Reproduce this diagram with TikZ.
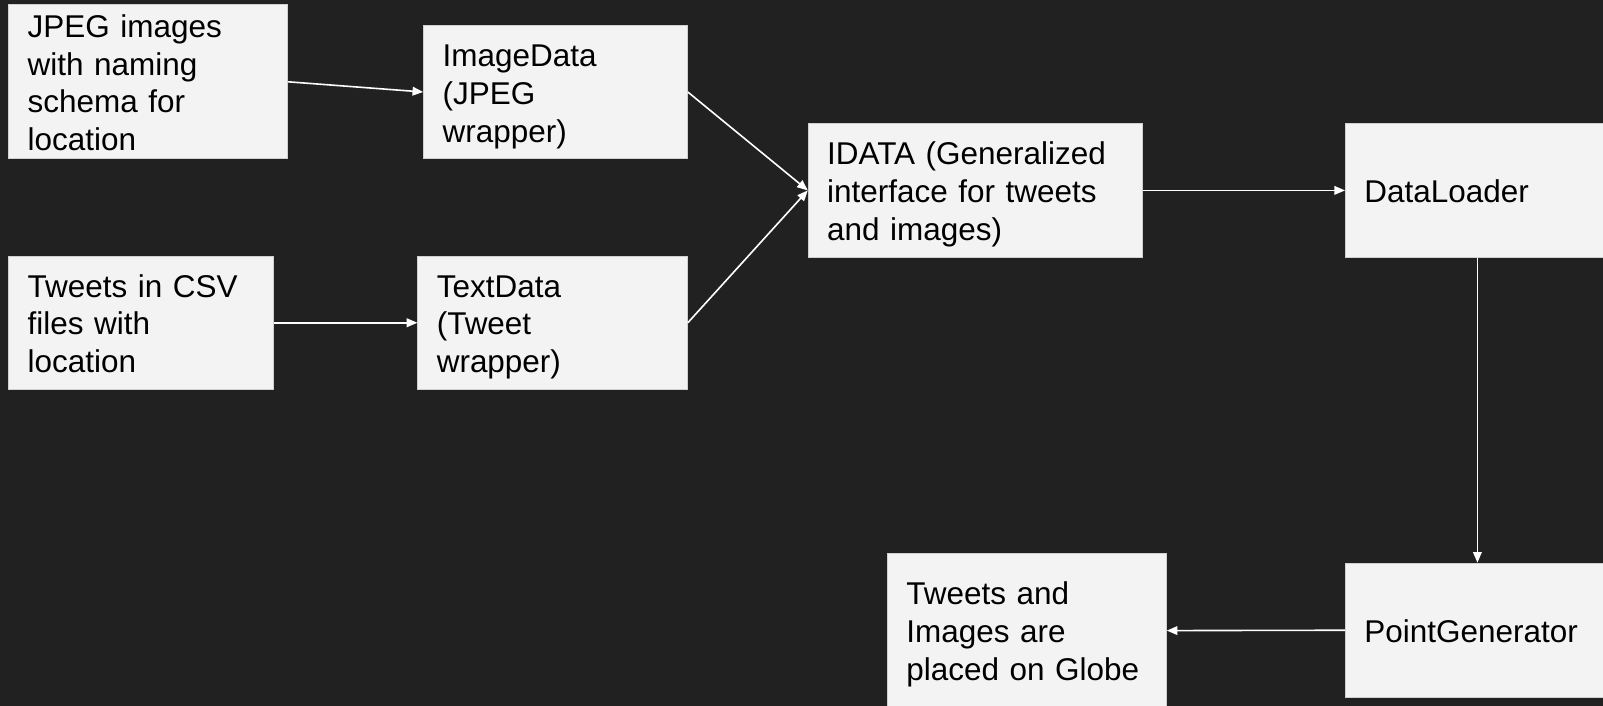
\documentclass[tikz,border=0pt]{standalone}
\usepackage{fontspec}
\setmainfont{Liberation Sans}
\usetikzlibrary{arrows.meta}
\definecolor{bgcol}{HTML}{212121}
\definecolor{boxfill}{HTML}{F3F3F3}
\definecolor{boxline}{HTML}{D0D0D0}
\newcommand\lnstrut{\rule[-5.05pt]{0pt}{28.4pt}}
\tikzset{
  box/.style={draw=boxline, line width=0.6pt, fill=boxfill, anchor=north west,
    inner xsep=14.25pt, inner ysep=0pt, align=left, text=black,
    font=\fontsize{23.6pt}{28.4pt}\selectfont},
  flow/.style={draw=white, line width=1.2pt, -{Triangle[length=8pt,width=6.5pt]}}
}
\begin{document}
\begin{tikzpicture}[x=0.75pt,y=-0.75pt]
\useasboundingbox (0,0) rectangle (1603,706);
\fill[bgcol] (0,0) rectangle (1603,706);
\clip (0,0) rectangle (1603,706);
\node[box, minimum width=209.25pt, minimum height=115.65pt, text width=180.75pt] (jpeg) at (8.3,4.3)
  {\lnstrut JPEG images\\with naming\\schema for\\location\lnstrut};
\node[box, minimum width=197.85pt, minimum height=100.35pt, text width=169.35pt] (imgdata) at (423.2,24.7)
  {\lnstrut ImageData\\(JPEG\\wrapper)\lnstrut};
\node[box, minimum width=198.3pt, minimum height=100.3pt, text width=169.8pt] (csv) at (8.3,255.5)
  {\lnstrut Tweets in CSV\\files with\\location\lnstrut};
\node[box, minimum width=202.2pt, minimum height=100.3pt, text width=173.7pt] (txtdata) at (417.4,255.5)
  {\lnstrut TextData\\(Tweet\\wrapper)\lnstrut};
\node[box, minimum width=250.8pt, minimum height=100.05pt, text width=222.3pt] (idata) at (807.8,123.3)
  {\lnstrut IDATA (Generalized\\interface for tweets\\and images)\lnstrut};
\node[box, minimum width=198pt, minimum height=100.05pt, text width=169.5pt] (loader) at (1345,123.3)
  {\lnstrut DataLoader};
\node[box, minimum width=198pt, minimum height=100.7pt, text width=169.5pt] (pointgen) at (1345,562.7)
  {\lnstrut PointGenerator};
\node[box, minimum width=209.25pt, minimum height=116.25pt, text width=180.75pt] (globe) at (887,552.7)
  {\lnstrut Tweets and\\Images are\\placed on Globe\lnstrut};
\draw[flow] (jpeg.east) -- (imgdata.west);
\draw[flow] (csv.east) -- (txtdata.west);
\draw[flow] (imgdata.east) -- (idata.west);
\draw[flow] (txtdata.east) -- (idata.west);
\draw[flow] (idata.east) -- (loader.west);
\draw[flow] (loader.south) -- (pointgen.north);
\draw[flow] (pointgen.west) -- (globe.east);
\end{tikzpicture}
\end{document}
